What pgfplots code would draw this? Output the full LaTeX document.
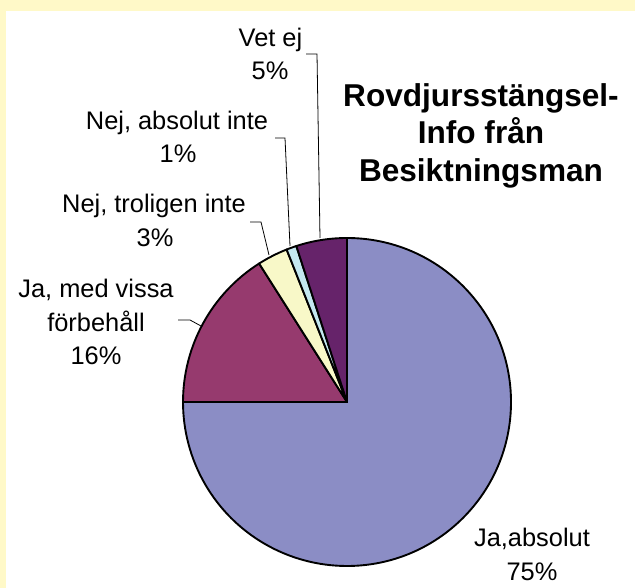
\documentclass[border=0pt]{standalone}
\usepackage{pgfplots}
\pgfplotsset{compat=1.18}
\usepackage{fontspec}
\setmainfont{Liberation Sans}
\definecolor{bgyellow}{HTML}{FFF9C8}
\definecolor{sA}{HTML}{8B8DC5}
\definecolor{sB}{HTML}{963A6E}
\definecolor{sC}{HTML}{F8F8C8}
\definecolor{sD}{HTML}{C4E8F0}
\definecolor{sE}{HTML}{66236A}
% slice: {cumulative start %}{value %}{colour}
\newcommand\slice[3]{%
  \pgfmathsetmacro\sa{90-3.6*#1}%
  \pgfmathsetmacro\se{90-3.6*(#1+#2)}%
  \edef\temp{\noexpand\filldraw[fill=#3,draw=black,line width=1.9pt,line join=round]
    (axis cs:347,186) -- ++(\sa:164bp) arc[start angle=\sa, end angle=\se, radius=164bp] -- cycle;}%
  \temp}
\newcommand\lab{\fontsize{25.5}{30}\selectfont}
\newcommand\ttl{\fontsize{31.7}{36}\selectfont\bfseries}
\begin{document}
\begin{tikzpicture}
\begin{axis}[
  width=635bp, height=588bp, scale only axis,
  xmin=0, xmax=635, ymin=0, ymax=588,
  hide axis, clip=false]
  \fill[bgyellow] (axis cs:0,0) rectangle (axis cs:635,588);
  \fill[white] (axis cs:6,0) rectangle (axis cs:635,577);
  % values: Ja,absolut 75; Ja, med vissa 16; Nej, troligen inte 3; Nej, absolut inte 1; Vet ej 5
  \slice{0}{75}{sA}
  \slice{75}{16}{sB}
  \slice{91}{3}{sC}
  \slice{94}{1}{sD}
  \slice{95}{5}{sE}
  % leader lines
  \draw[black, line width=0.8pt] (axis cs:306,534) -- (axis cs:317,534) -- (axis cs:320,350);
  \draw[black, line width=0.8pt] (axis cs:275,450) -- (axis cs:285,450) -- (axis cs:290,342);
  \draw[black, line width=0.8pt] (axis cs:250,366) -- (axis cs:261,366) -- (axis cs:269,333);
  \draw[black, line width=0.8pt] (axis cs:178,268) -- (axis cs:190,268) -- (axis cs:201,262);
  % labels
  \node[anchor=base, inner sep=0pt] at (axis cs:270.5,541) {\lab Vet ej};
  \node[anchor=base, inner sep=0pt] at (axis cs:270,508) {\lab 5\%};
  \node[anchor=base, inner sep=0pt] at (axis cs:177,458) {\lab Nej, absolut inte};
  \node[anchor=base, inner sep=0pt] at (axis cs:178,425) {\lab 1\%};
  \node[anchor=base, inner sep=0pt] at (axis cs:154,375) {\lab Nej, troligen inte};
  \node[anchor=base, inner sep=0pt] at (axis cs:155,341) {\lab 3\%};
  \node[anchor=base, inner sep=0pt] at (axis cs:96,290) {\lab Ja, med vissa};
  \node[anchor=base, inner sep=0pt] at (axis cs:96,256) {\lab förbehåll};
  \node[anchor=base, inner sep=0pt] at (axis cs:96,223) {\lab 16\%};
  \node[anchor=base, inner sep=0pt] at (axis cs:532,41) {\lab Ja,absolut};
  \node[anchor=base, inner sep=0pt] at (axis cs:532,8) {\lab 75\%};
  % title
  \node[anchor=base, inner sep=0pt] at (axis cs:481,481) {\ttl Rovdjursstängsel-};
  \node[anchor=base, inner sep=0pt] at (axis cs:481,444) {\ttl Info från};
  \node[anchor=base, inner sep=0pt] at (axis cs:481,406) {\ttl Besiktningsman};
\end{axis}
\end{tikzpicture}
\end{document}
